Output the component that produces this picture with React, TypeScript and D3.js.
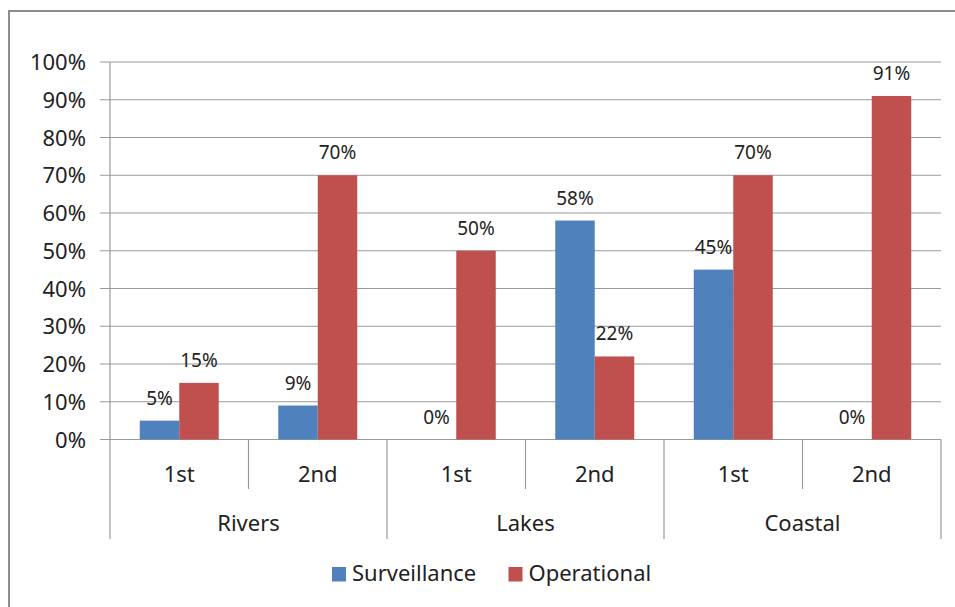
import React from "react";
import * as d3 from "d3";

const groups = ["Rivers", "Lakes", "Coastal"];
const subLabels = ["1st", "2nd"];
const categories = ["Rivers 1st", "Rivers 2nd", "Lakes 1st", "Lakes 2nd", "Coastal 1st", "Coastal 2nd"];
const surveillance = [5, 9, 0, 58, 45, 0];
const operational = [15, 70, 50, 22, 70, 91];
const seriesNames = ["Surveillance", "Operational"];
const yTicks = [0, 10, 20, 30, 40, 50, 60, 70, 80, 90, 100];

const W = 955;
const H = 607;
const FONT = "'Noto Sans', 'Liberation Sans', sans-serif";
const COLORS = ["#4F81BD", "#C0504D"];
const GRID = "#9a9a9a";
const TEXT = "#222";

export default function App() {
  const left = 110, right = 941, top = 62, bottom = 439.5;
  const x = d3.scaleBand<string>().domain(categories).range([left, right]).padding(0);
  const bw = x.bandwidth();
  const inner = d3.scaleBand<string>().domain(seriesNames).range([bw * 0.2148, bw * (1 - 0.2148)]).padding(0);
  const y = d3.scaleLinear().domain([0, 100]).range([bottom, top]);
  const data = [surveillance, operational];

  return (
    <svg width={W} height={H} style={{ position: "absolute", left: 0, top: 0, background: "#fff" }} fontFamily={FONT}>
      <rect x={9} y={11} width={1000} height={700} fill="#fff" stroke="#8c8c8c" strokeWidth={2} />
      {/* gridlines */}
      {yTicks.map((t) => (
        <g key={t}>
          <line x1={left - 10} x2={right} y1={y(t)} y2={y(t)} stroke={GRID} strokeWidth={1.2} />
          <text x={86} y={y(t) + 8} textAnchor="end" fontSize={22} fill={TEXT}>{t}%</text>
        </g>
      ))}
      <line x1={left} x2={left} y1={top} y2={539} stroke={GRID} strokeWidth={1.2} />
      {/* category ticks */}
      {categories.map((c, i) => {
        const xr = (x(c) as number) + bw;
        const isGroupEnd = i % 2 === 1;
        return (
          <line key={c} x1={xr} x2={xr} y1={bottom} y2={isGroupEnd ? 539 : 489} stroke={GRID} strokeWidth={1.2} />
        );
      })}
      {/* bars */}
      {categories.map((c, i) => (
        <g key={c} transform={`translate(${x(c)},0)`}>
          {seriesNames.map((s, k) => {
            const v = data[k][i];
            const bx = inner(s) as number;
            return (
              <g key={s}>
                {v > 0 && (
                  <rect x={bx} y={y(v)} width={inner.bandwidth()} height={bottom - y(v)} fill={COLORS[k]} />
                )}
                <text x={bx + inner.bandwidth() / 2} y={y(v) - 16} textAnchor="middle" fontSize={19} fill={TEXT}>{v}%</text>
              </g>
            );
          })}
          <text x={bw / 2} y={482} textAnchor="middle" fontSize={22} fill={TEXT}>{subLabels[i % 2]}</text>
        </g>
      ))}
      {groups.map((g, j) => {
        const gx = (x(categories[j * 2]) as number) + bw;
        return (
          <text key={g} x={gx} y={531} textAnchor="middle" fontSize={22} fill={TEXT}>{g}</text>
        );
      })}
      {/* legend */}
      {seriesNames.map((s, k) => {
        const lx = [332, 508.5][k];
        return (
          <g key={s}>
            <rect x={lx} y={567} width={14} height={14.5} fill={COLORS[k]} />
            <text x={lx + 20} y={581} fontSize={22} fill={TEXT}>{s}</text>
          </g>
        );
      })}
    </svg>
  );
}
